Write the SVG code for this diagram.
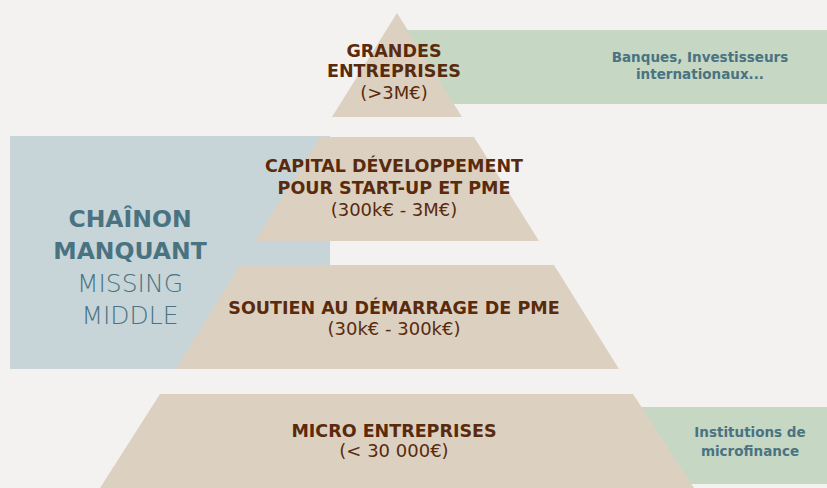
<svg xmlns="http://www.w3.org/2000/svg" width="827" height="488" viewBox="0 0 827 488">
<style>
.bg{fill:#F3F2F0}
.tier{fill:#DCD1C0}
.blue{fill:#C7D5D9}
.green{fill:#C6D7C4}
.t{font-family:"DejaVu Sans",sans-serif;fill:#5A2A0C;text-anchor:middle}
.tb{font-weight:bold;font-size:17.5px}
.tr{font-size:18px}
.side{font-family:"DejaVu Sans",sans-serif;fill:#4A7382;text-anchor:middle}
</style>
<rect class="bg" x="0" y="0" width="827" height="488"/>
<g id="side-top"><rect class="green" x="400" y="30" width="427" height="74"/>
<text class="side" font-weight="bold" font-size="13.5" x="700" y="62">Banques, Investisseurs</text>
<text class="side" font-weight="bold" font-size="13.5" x="700" y="79">internationaux...</text></g>
<g id="side-bottom"><rect class="green" x="620" y="407" width="207" height="77"/>
<text class="side" font-weight="bold" font-size="13.5" x="750" y="437">Institutions de</text>
<text class="side" font-weight="bold" font-size="13.5" x="750" y="456">microfinance</text></g>
<g id="missing-middle"><rect class="blue" x="10" y="136" width="320" height="233"/>
<text class="side" font-weight="bold" font-size="23.5" x="130" y="227">CHAÎNON</text>
<text class="side" font-weight="bold" font-size="23.5" x="130" y="259">MANQUANT</text>
<text class="side" font-weight="300" font-size="25" x="130" y="292">MISSING</text>
<text class="side" font-weight="300" font-size="25" x="130" y="324">MIDDLE</text></g>
<g id="tier1"><polygon class="tier" points="397,13 462,117 332,117"/>
<text class="t tb" x="394" y="57">GRANDES</text>
<text class="t tb" x="394" y="77">ENTREPRISES</text>
<text class="t tr" x="394" y="99">(&gt;3M€)</text></g>
<g id="tier2"><polygon class="tier" points="320,137 474,137 539,241 255,241"/>
<text class="t tb" x="394" y="172">CAPITAL DÉVELOPPEMENT</text>
<text class="t tb" x="394" y="194">POUR START-UP ET PME</text>
<text class="t tr" x="394" y="216">(300k€ - 3M€)</text></g>
<g id="tier3"><polygon class="tier" points="240,265 554,265 619,369 176,369"/>
<text class="t tb" x="394" y="314">SOUTIEN AU DÉMARRAGE DE PME</text>
<text class="t tr" x="394" y="335">(30k€ - 300k€)</text></g>
<g id="tier4"><polygon class="tier" points="160,394 633,394 694,488 100,488"/>
<text class="t tb" x="394" y="437">MICRO ENTREPRISES</text>
<text class="t tr" x="394" y="457">(&lt; 30 000€)</text></g>
<g id="connectors"/>
</svg>
